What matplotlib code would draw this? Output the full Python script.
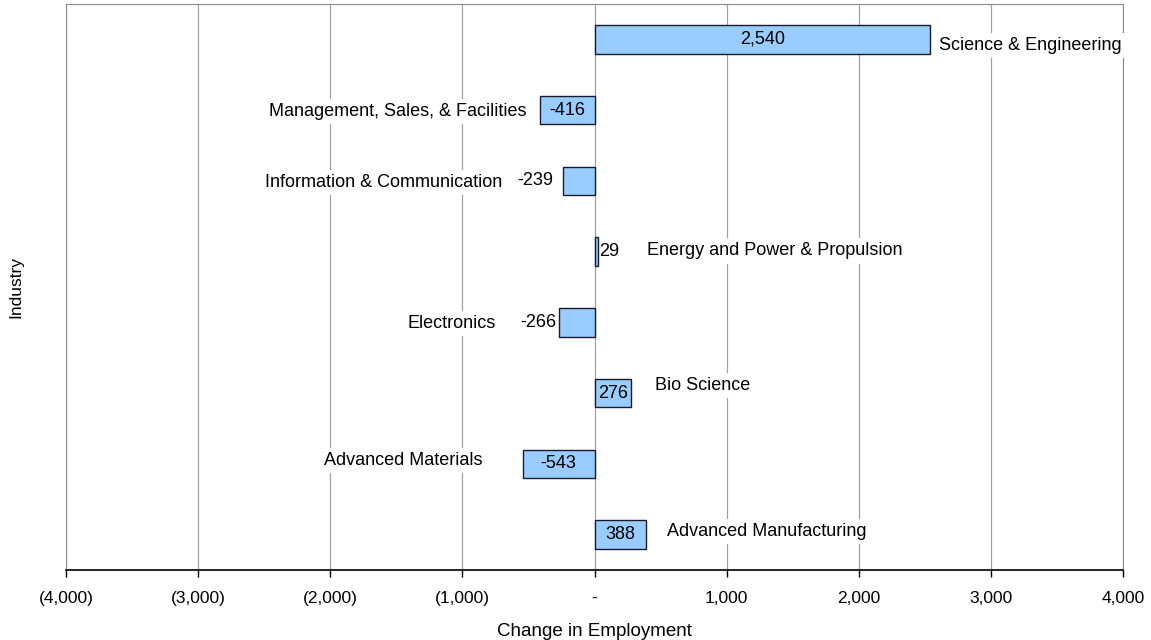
import matplotlib
matplotlib.use("Agg")
import matplotlib.pyplot as plt
from matplotlib.ticker import FuncFormatter

# data, bottom to top
industries = ["Advanced Manufacturing", "Advanced Materials", "Bio Science", "Electronics",
              "Energy and Power & Propulsion", "Information & Communication",
              "Management, Sales, & Facilities", "Science & Engineering"]
change = [388, -543, 276, -266, 29, -239, -416, 2540]
value_text = ["388", "-543", "276", "-266", "29", "-239", "-416", "2,540"]
xticks = [-4000, -3000, -2000, -1000, 0, 1000, 2000, 3000, 4000]

# hand-placed label positions (Excel-style moved labels): name x, ha, dy ; value mode
name_pos = [(549, "left", 0.04), (-851, "right", 0.05), (458, "left", 0.11), (-745, "right", -0.02),
            (397, "left", 0.01), (-700, "right", -0.02), (-511, "right", -0.02), (2607, "left", -0.09)]
value_pos = ["in", "in", "in", ("r", -291), ("l", 34), ("r", -314), "in", "in"]

plt.rcParams["font.family"] = ["Liberation Sans", "DejaVu Sans"]
fig = plt.figure(figsize=(11.51, 6.4), dpi=100)
ax = fig.add_axes([66 / 1151, 1 - 570 / 640, (1123 - 66) / 1151, (570 - 4) / 640])

y = list(range(len(industries)))
ax.barh(y, change, height=0.4, color="#99CCFF", edgecolor="#1a1a2e", linewidth=1.0, zorder=3)
ax.set_xlim(-4000, 4000); ax.set_ylim(-0.5, len(industries) - 0.5)
ax.set_xticks(xticks)
ax.xaxis.set_major_formatter(FuncFormatter(
    lambda v, p: "-" if v == 0 else (f"({abs(v):,.0f})" if v < 0 else f"{v:,.0f}")))
ax.set_yticks([])
ax.grid(axis="x", color="#a0a0a0", linewidth=0.9, zorder=0)
for s in ["left", "top", "right"]:
    ax.spines[s].set_color("#8c8c8c")
ax.spines["bottom"].set_color("black"); ax.spines["bottom"].set_linewidth(1.2)
ax.tick_params(axis="x", direction="out", length=5, width=1, labelsize=12.5, pad=10)

for i, (v, vt) in enumerate(zip(change, value_text)):
    nx, ha, dy = name_pos[i]
    ax.text(nx, i + dy, industries[i], ha=ha, va="center", fontsize=13, zorder=4,
            bbox=dict(facecolor="white", edgecolor="none", pad=3))
    vp = value_pos[i]
    if vp == "in":
        ax.text(v / 2, i, vt, ha="center", va="center", fontsize=13, zorder=5)
    elif vp[0] == "r":
        ax.text(vp[1], i, vt, ha="right", va="center", fontsize=13, zorder=5)
    else:
        ax.text(vp[1], i, vt, ha="left", va="center", fontsize=13, zorder=5)

ax.set_xlabel("Change in Employment", fontsize=13.5, labelpad=12)
ax.yaxis.set_label_coords(-(66 - 15.5) / (1123 - 66), 0.5)
ax.set_ylabel("Industry", fontsize=12.5, va="center")
fig.savefig("out.png", dpi=100)
